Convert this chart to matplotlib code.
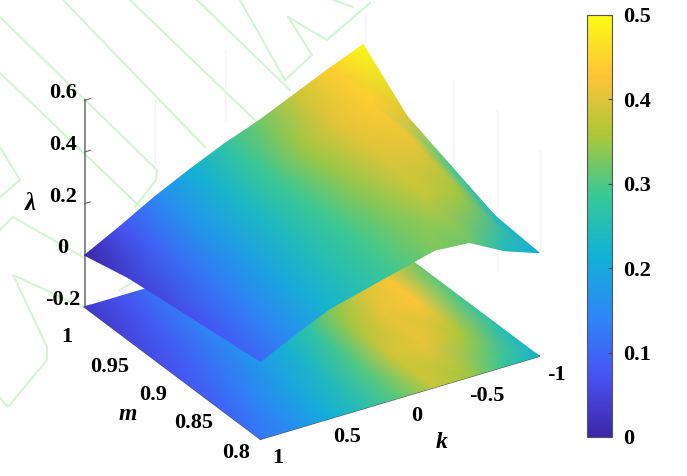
import numpy as np
import matplotlib
matplotlib.use("Agg")
import matplotlib.pyplot as plt
from matplotlib.colors import LinearSegmentedColormap, Normalize
from matplotlib.cm import ScalarMappable
from mpl_toolkits.mplot3d import proj3d

plt.rcParams['font.family'] = ['Liberation Serif', 'DejaVu Serif']
plt.rcParams['font.weight'] = 'bold'

# data
k_vals = [1, 0.75, 0.5, 0.25, 0, -0.25, -0.5, -0.75, -1]
m_vals = [1, 0.95, 0.9, 0.85, 0.8]
upper = [
    [0.00, 0.07, 0.145, 0.21, 0.27, 0.32, 0.38, 0.44, 0.495],
    [0.04, 0.10, 0.17, 0.23, 0.29, 0.35, 0.41, 0.44, 0.345],
    [0.06, 0.12, 0.18, 0.24, 0.29, 0.34, 0.40, 0.41, 0.28],
    [0.08, 0.14, 0.20, 0.25, 0.29, 0.33, 0.38, 0.35, 0.215],
    [0.10, 0.165, 0.225, 0.26, 0.295, 0.33, 0.32, 0.248, 0.20],
]
# colour along the k=-1 edge of the upper sheet, it does not quite follow the height there
upper_edge_colour = [0.50, 0.40, 0.29, 0.23, 0.21]
floor = [
    [0.03, 0.07, 0.12, 0.17, 0.22, 0.27, 0.30, 0.33, 0.34],
    [0.05, 0.09, 0.14, 0.19, 0.24, 0.30, 0.37, 0.42, 0.33],
    [0.07, 0.11, 0.16, 0.21, 0.27, 0.35, 0.41, 0.43, 0.30],
    [0.09, 0.14, 0.19, 0.24, 0.30, 0.39, 0.41, 0.36, 0.26],
    [0.12, 0.16, 0.21, 0.26, 0.31, 0.38, 0.35, 0.28, 0.22],
]
k_ticks = [1, 0.5, 0, -0.5, -1]
k_labels = ['1', '0.5', '0', '-0.5', '-1']
m_ticks = [1, 0.95, 0.9, 0.85, 0.8]
m_labels = ['1', '0.95', '0.9', '0.85', '0.8']
z_ticks = [-0.2, 0, 0.2, 0.4, 0.6]
z_labels = ['-0.2', '0', '0.2', '0.4', '0.6']
c_ticks = [0, 0.1, 0.2, 0.3, 0.4, 0.5]
c_labels = ['0', '0.1', '0.2', '0.3', '0.4', '0.5']

# label offsets from the tick, in pixels
k_offset = (17, -19)
m_offset = [(-18, -30), (-19, -27), (-20, -22), (-23, -17), (-24, -14)]
z_offset = (-22, 7)

# watermark behind the plot, in pixels
watermark = [
    [(0, 17), (157, 170), (156, 180), (135, 207)],
    [(63, 0), (205, 147)],
    [(130, 0), (260, 125)],
    [(197, 0), (290, 90)],
    [(240, 0), (285, 80)],
    [(288, 17), (312, 55), (285, 80)],
    [(288, 17), (327, 40), (370, 3)],
    [(333, 0), (353, 7)],
    [(0, 73), (133, 200), (175, 240)],
    [(0, 147), (20, 180), (0, 197)],
    [(0, 230), (13, 217), (83, 257)],
    [(83, 307), (13, 275), (47, 347), (47, 360), (8, 407), (0, 398)],
    [(120, 290), (140, 278)],
]
faint = [[(365, 15), (365, 42)], [(453, 80), (453, 240)], [(497, 110), (497, 270)],
         [(540, 150), (540, 250)], [(225, 50), (225, 120)], [(155, 100), (155, 170)]]

parula = LinearSegmentedColormap.from_list('parula', [
    (0.2422, 0.1504, 0.6603), (0.2810, 0.3228, 0.9579), (0.1786, 0.5289, 0.9682),
    (0.0689, 0.6948, 0.8394), (0.2161, 0.7843, 0.5923), (0.6720, 0.7793, 0.2227),
    (0.9970, 0.7659, 0.2199), (0.9769, 0.9839, 0.0805)])
norm = Normalize(0, 0.5)

W, H = 687, 476
fig = plt.figure(figsize=(W / 100, H / 100), dpi=100)

bg = fig.add_axes([0, 0, 1, 1], zorder=0)
bg.set_xlim(0, W)
bg.set_ylim(H, 0)
bg.axis('off')
for pts in watermark:
    xs, ys = zip(*pts)
    bg.plot(xs, ys, color='#d3f5d3', lw=1.5)
for pts in faint:
    xs, ys = zip(*pts)
    bg.plot(xs, ys, color='#f3f3f3', lw=1)

side = 453
ax = fig.add_axes([79.2 / W, 1 - (side + 7.8) / H, side / W, side / H], projection='3d', zorder=1)
ax.set_proj_type('ortho')
ax.view_init(elev=28.2, azim=-122.2)
ax.set_xlim3d(1, -1, view_margin=0)
ax.set_ylim3d(0.8, 1, view_margin=0)
ax.set_zlim3d(-0.2, 0.6, view_margin=0)
ax.set_box_aspect((330, 331, 235), zoom=1.118)
ax.patch.set_alpha(0)
ax.grid(False)
for a in (ax.xaxis, ax.yaxis, ax.zaxis):
    a.set_pane_color((1, 1, 1, 0))
    a.pane.set_edgecolor('none')
    a.line.set_color('#8c8c8c')
    a.line.set_linewidth(1.5)
    a._axinfo['tick']['inward_factor'] = 0
    a._axinfo['tick']['outward_factor'] = 0.25
ax.xaxis.line.set_color('#555555')
ax.yaxis.line.set_color('#555555')
ax.set_xticks(k_ticks, [''] * len(k_ticks))
ax.set_yticks(m_ticks, [''] * len(m_ticks))
ax.set_zticks(z_ticks, [''] * len(z_ticks))
ax.tick_params(colors='#666666')

# smooth shading: project the grids with the 3d axes and draw them with gouraud
ov = fig.add_axes([0, 0, 1, 1], zorder=2)
ov.axis('off')
K, M = np.meshgrid(k_vals, m_vals)
proj = ax.get_proj()


def project(xs, ys, zs):
    xp, yp, _ = proj3d.proj_transform(np.ravel(xs), np.ravel(ys), np.ravel(zs), proj)
    return xp, yp


floor_z = np.array(floor)
upper_z = np.array(upper)
upper_c = upper_z.copy()
upper_c[:, -1] = upper_edge_colour
for zpos, col in ((np.full(floor_z.shape, z_ticks[0]), floor_z), (upper_z, upper_c)):
    xp, yp = project(K, M, zpos)
    ov.pcolormesh(xp.reshape(zpos.shape), yp.reshape(zpos.shape), col, shading='gouraud',
                  cmap=parula, norm=norm, transform=ax.transData, clip_on=False)
ov.set_xlim(0, 1)
ov.set_ylim(0, 1)


def tick_labels(xs, ys, zs, labels, offsets):
    xp, yp = project(xs, ys, zs)
    for x, y, lab, off in zip(xp, yp, labels, offsets):
        ov.annotate(lab, (x, y), xycoords=ax.transData, xytext=off, textcoords='offset pixels',
                    ha='center', va='center', fontsize=16)


n = len(k_ticks)
tick_labels(k_ticks, [0.8] * n, [-0.2] * n, k_labels, [k_offset] * n)
tick_labels([1] * n, m_ticks, [-0.2] * n, m_labels, m_offset)
tick_labels([1] * n, [1] * n, z_ticks, z_labels, [z_offset] * n)

bg.text(442, 443, 'k', style='italic', fontsize=17, ha='center', va='center')
bg.text(128, 414, 'm', style='italic', fontsize=17, ha='center', va='center')
bg.text(30, 203, '\u03bb', style='italic', fontsize=18, ha='center', va='center')

cax = fig.add_axes([587 / W, 1 - 437 / H, 25 / W, 422 / H], zorder=3)
cb = fig.colorbar(ScalarMappable(norm=norm, cmap=parula), cax=cax)
cb.set_ticks(c_ticks, labels=c_labels, fontsize=16)
cb.ax.tick_params(direction='in', length=3, width=0.8, color='#444444', pad=8)
cb.outline.set_edgecolor('#555555')
cb.outline.set_linewidth(0.8)

fig.savefig('out.png', dpi=100)
